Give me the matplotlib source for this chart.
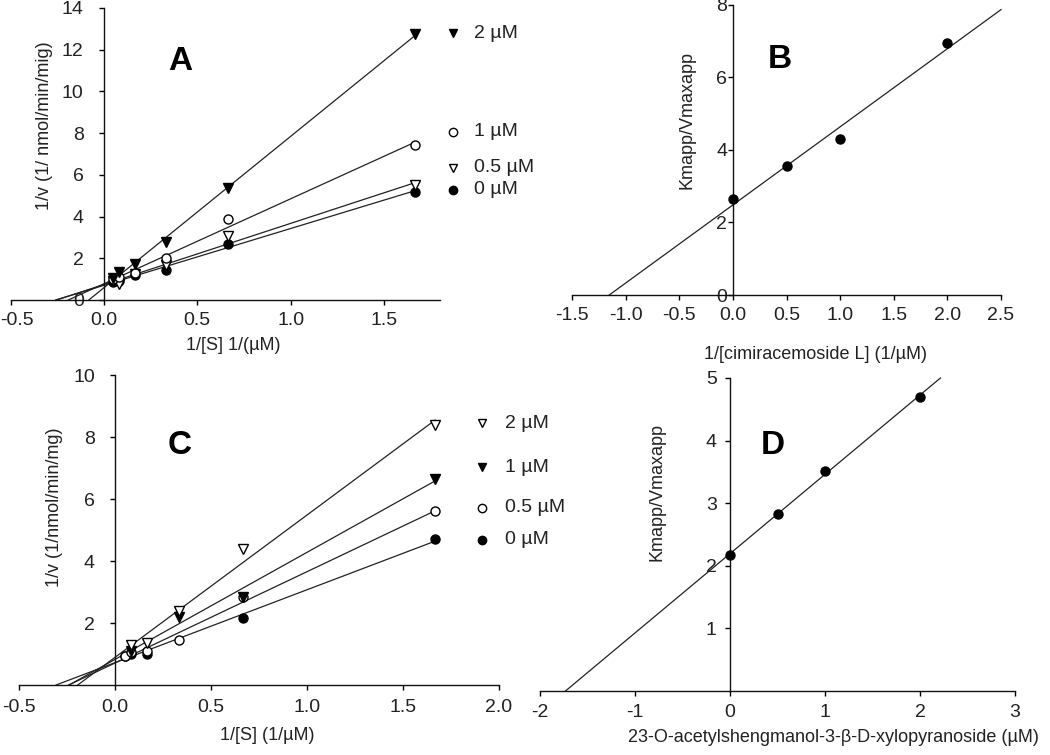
import numpy as np
import matplotlib
matplotlib.use("Agg")
import matplotlib.pyplot as plt
import matplotlib.transforms as mtransforms

plt.rcParams['font.family'] = ['Liberation Sans', 'DejaVu Sans']
plt.rcParams['axes.unicode_minus'] = False

W, H = 1050, 755

# reciprocal substrate concentrations, 1/[S] (1/uM)
inv_s = [0.05, 0.0833, 0.1667, 0.333, 0.667, 1.667]

# panel A: 1/v for each inhibitor level
a_labels = ["2 µM", "1 µM", "0.5 µM", "0 µM"]
a_0 = [0.85, 0.9, 1.2, 1.45, 2.7, 5.2]
a_05 = [0.9, 0.75, 1.25, 1.7, 3.05, 5.5]
a_1 = [1.0, 1.1, 1.3, 2.0, 3.9, 7.45]
a_2 = [1.05, 1.35, 1.75, 2.8, 5.35, 12.75]

# panel B: secondary plot
b_x = [0, 0.5, 1, 2]
b_y = [2.65, 3.55, 4.3, 6.95]

# panel C
c_labels = ["2 µM", "1 µM", "0.5 µM", "0 µM"]
c_0_x = [0.05, 0.0833, 0.1667, 0.667, 1.667]
c_0 = [0.95, 1.0, 1.0, 2.15, 4.7]
c_05 = [0.95, 1.05, 1.1, 1.45, 2.85, 5.6]
c_1_x = [0.0833, 0.333, 0.667, 1.667]
c_1 = [1.1, 2.2, 2.85, 6.65]
c_2_x = [0.0833, 0.1667, 0.333, 0.667, 1.667]
c_2 = [1.3, 1.35, 2.4, 4.4, 8.4]

# panel D
d_x = [0, 0.5, 1, 2]
d_y = [2.17, 2.82, 3.52, 4.7]

fig = plt.figure(figsize=(W / 100, H / 100), dpi=100)

TXT = '#222222'


def rect(x0, x1, ytop, ybot):
    return [x0 / W, 1 - ybot / H, (x1 - x0) / W, (ybot - ytop) / H]


def fx(px):
    return px / W


def fy(py):
    return 1 - py / H


def style_axes(ax, xpad, ypad):
    ax.spines['top'].set_visible(False)
    ax.spines['right'].set_visible(False)
    ax.spines['left'].set_position(('data', 0))
    ax.spines['bottom'].set_position(('data', 0))
    for s in ('left', 'bottom'):
        ax.spines[s].set_linewidth(1.0)
        ax.spines[s].set_color('#111111')
    ax.tick_params(direction='out', length=3.5, width=1.0, labelsize=14,
                   labelcolor=TXT)
    ax.tick_params(axis='x', pad=xpad)
    ax.tick_params(axis='y', pad=ypad)
    ax.patch.set_alpha(0)


MARK = {
    'fc': dict(marker='o', mfc='black', mec='black'),
    'oc': dict(marker='o', mfc='white', mec='black'),
    'ft': dict(marker='v', mfc='black', mec='black'),
    'ot': dict(marker='v', mfc='white', mec='black'),
}


def fit_line(ax, x, y, x_end=None, y_top=None):
    k, b = np.polyfit(x, y, 1)
    x0 = -b / k
    if x_end is None:
        x_end = max(x)
    if y_top is not None:
        x_end = (y_top - b) / k
    xs = np.array([x0, x_end])
    ax.plot(xs, k * xs + b, color='#222222', lw=0.9, zorder=2, clip_on=False)


def series(ax, x, y, kind):
    ax.plot(x, y, ls='none', ms=6.5, mew=1.0, zorder=3, clip_on=False,
            **MARK[kind])


def legend_entry(px, py, kind, label, tx):
    fig.lines.append(plt.Line2D([fx(px)], [fy(py)], ls='none', ms=6,
                                mew=1.0, transform=fig.transFigure,
                                **MARK[kind]))
    fig.text(fx(tx), fy(py), label, fontsize=14, color=TXT, va='center',
             ha='left')


# ---- Panel A ----
axA = fig.add_axes(rect(10.5, 440, 8, 300))
axA.set_xlim(-0.5, 1.8)
axA.set_ylim(0, 14)
style_axes(axA, 5, 11)
axA.set_xticks([-0.5, 0.0, 0.5, 1.0, 1.5])
axA.set_xticklabels(['-0.5', '0.0', '0.5', '1.0', '1.5'])
axA.set_yticks(range(0, 15, 2))
first = axA.get_xticklabels()[0]
first.set_transform(first.get_transform() +
                    mtransforms.ScaledTranslation(6 / 100, 0,
                                                  fig.dpi_scale_trans))
for yy, kind in [(a_0, 'fc'), (a_05, 'ot'), (a_1, 'oc'), (a_2, 'ft')]:
    fit_line(axA, inv_s, yy)
    series(axA, inv_s, yy, kind)
fig.text(fx(45), fy(126), "1/v (1/ nmol/min/mig)", rotation=90, fontsize=13,
         color=TXT, ha='center', va='center')
fig.text(fx(233), fy(345), "1/[S] 1/(µM)", fontsize=13, color=TXT,
         ha='center', va='center')
fig.text(fx(180), fy(62), "A", fontsize=24, fontweight='bold',
         ha='center', va='center')
for py, kind, lab in zip([33, 132, 168, 190], ['ft', 'oc', 'ot', 'fc'],
                         a_labels):
    legend_entry(453, py, kind, lab, 474)

# ---- Panel B ----
axB = fig.add_axes(rect(572, 1001, 4.5, 295))
axB.set_xlim(-1.5, 2.5)
axB.set_ylim(0, 8)
style_axes(axB, 5.5, 0.5)
axB.set_xticks(np.arange(-1.5, 2.51, 0.5))
axB.set_xticklabels([f"{v:.1f}" for v in np.arange(-1.5, 2.51, 0.5)])
axB.set_yticks(range(0, 9, 2))
fit_line(axB, b_x, b_y, x_end=2.5)
series(axB, b_x, b_y, 'fc')
fig.text(fx(687), fy(120), "Kmapp/Vmaxapp", rotation=90, fontsize=13,
         color=TXT, ha='center', va='center')
fig.text(fx(815), fy(355), "1/[cimiracemoside L] (1/µM)", fontsize=13,
         color=TXT, ha='center', va='center')
fig.text(fx(780), fy(60), "B", fontsize=24, fontweight='bold',
         ha='center', va='center')

# ---- Panel C ----
axC = fig.add_axes(rect(19, 499, 375, 685))
axC.set_xlim(-0.5, 2.0)
axC.set_ylim(0, 10)
style_axes(axC, 6.5, 11)
axC.set_xticks([-0.5, 0.0, 0.5, 1.0, 1.5, 2.0])
axC.set_xticklabels(['-0.5', '0.0', '0.5', '1.0', '1.5', '2.0'])
axC.set_yticks([2, 4, 6, 8, 10])
for xx, yy, kind in [(c_0_x, c_0, 'fc'), (inv_s, c_05, 'oc'),
                     (c_1_x, c_1, 'ft'), (c_2_x, c_2, 'ot')]:
    fit_line(axC, xx, yy)
    series(axC, xx, yy, kind)
fig.text(fx(55), fy(507), "1/v (1/nmol/min/mg)", rotation=90, fontsize=13,
         color=TXT, ha='center', va='center')
fig.text(fx(267), fy(735), "1/[S] (1/µM)", fontsize=13, color=TXT,
         ha='center', va='center')
fig.text(fx(180), fy(446), "C", fontsize=24, fontweight='bold',
         ha='center', va='center')
for py, kind, lab in zip([423, 467, 508, 540], ['ot', 'ft', 'oc', 'fc'],
                         c_labels):
    legend_entry(482, py, kind, lab, 505)

# ---- Panel D ----
axD = fig.add_axes(rect(540, 1015, 378, 691))
axD.set_xlim(-2, 3)
axD.set_ylim(0, 5)
style_axes(axD, 6, 6)
axD.set_xticks(range(-2, 4))
axD.set_yticks([1, 2, 3, 4, 5])
fit_line(axD, d_x, d_y, y_top=5)
series(axD, d_x, d_y, 'fc')
fig.text(fx(657), fy(492), "Kmapp/Vmaxapp", rotation=90, fontsize=13,
         color=TXT, ha='center', va='center')
fig.text(fx(833), fy(737), "23-O-acetylshengmanol-3-β-D-xylopyranoside (µM)",
         fontsize=13, color=TXT, ha='center', va='center')
fig.text(fx(773), fy(446), "D", fontsize=24, fontweight='bold',
         ha='center', va='center')

fig.savefig("out.png", dpi=100)
